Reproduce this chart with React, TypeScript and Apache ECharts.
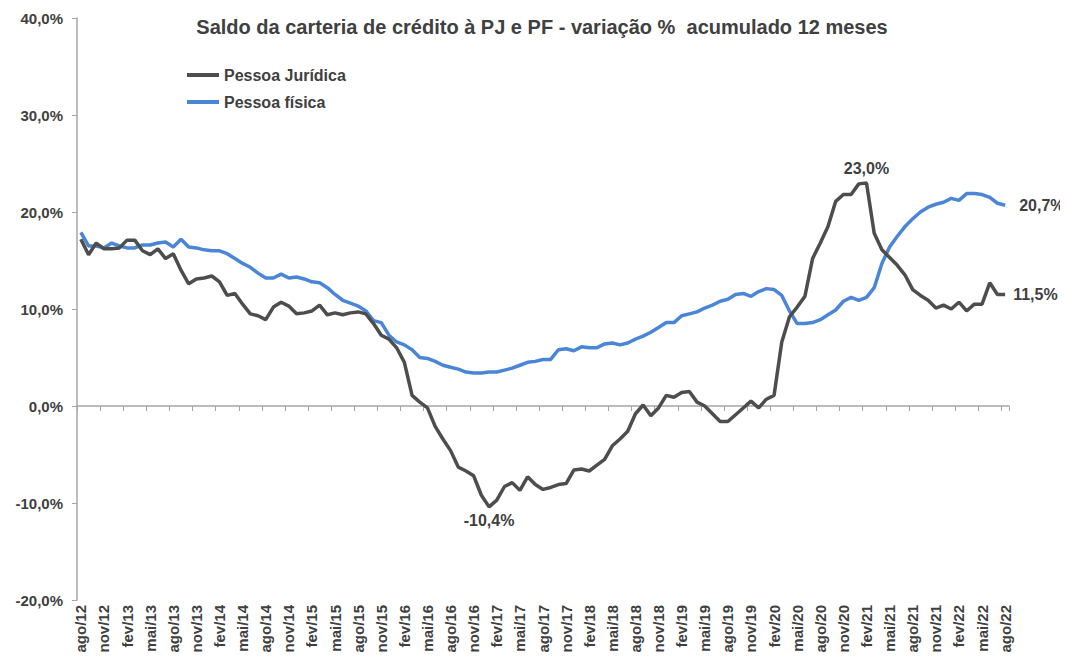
import React, { useEffect, useRef } from "react";
import * as echarts from "echarts";

const MONTHS = ["jan", "fev", "mar", "abr", "mai", "jun", "jul", "ago", "set", "out", "nov", "dez"];
// ago/12 .. ago/22
const categories: string[] = [];
for (let y = 2012; y <= 2022; y++) {
  for (let m = 0; m < 12; m++) {
    if (y === 2012 && m < 7) continue;
    if (y === 2022 && m > 7) continue;
    categories.push(`${MONTHS[m]}/${String(y).slice(2)}`);
  }
}

const pessoaJuridica = [
  17.2, 15.6, 16.8, 16.2, 16.2, 16.3, 17.1, 17.1, 16.0, 15.6,
  16.2, 15.2, 15.7, 14.0, 12.6, 13.1, 13.2, 13.4, 12.8, 11.4,
  11.6, 10.5, 9.5, 9.3, 8.9, 10.2, 10.7, 10.3, 9.5, 9.6,
  9.8, 10.4, 9.4, 9.6, 9.4, 9.6, 9.7, 9.5, 8.5, 7.3,
  6.9, 6.0, 4.5, 1.1, 0.4, -0.2, -2.1, -3.4, -4.6, -6.3,
  -6.7, -7.2, -9.2, -10.4, -9.7, -8.3, -7.9, -8.7, -7.3, -8.1,
  -8.6, -8.4, -8.1, -8.0, -6.6, -6.5, -6.7, -6.1, -5.5, -4.1,
  -3.4, -2.6, -0.8, 0.1, -1.0, -0.2, 1.1, 0.9, 1.4, 1.5,
  0.4, 0.0, -0.8, -1.6, -1.6, -0.9, -0.2, 0.5, -0.2, 0.7,
  1.1, 6.6, 9.2, 10.2, 11.3, 15.2, 16.8, 18.5, 21.1, 21.8,
  21.8, 22.9, 23.0, 17.8, 16.1, 15.3, 14.5, 13.5, 12.0, 11.4,
  10.9, 10.1, 10.4, 10.0, 10.7, 9.8, 10.5, 10.5, 12.7, 11.5,
  11.5,
];

const pessoaFisica = [
  17.9, 16.5, 16.5, 16.3, 16.8, 16.5, 16.3, 16.3, 16.6, 16.6,
  16.8, 16.9, 16.4, 17.2, 16.4, 16.3, 16.1, 16.0, 16.0, 15.7,
  15.2, 14.7, 14.3, 13.7, 13.2, 13.2, 13.6, 13.2, 13.3, 13.1,
  12.8, 12.7, 12.2, 11.5, 10.9, 10.6, 10.3, 9.8, 8.8, 8.6,
  7.3, 6.6, 6.3, 5.8, 5.0, 4.9, 4.6, 4.2, 4.0, 3.8,
  3.5, 3.4, 3.4, 3.5, 3.5, 3.7, 3.9, 4.2, 4.5, 4.6,
  4.8, 4.8, 5.8, 5.9, 5.7, 6.1, 6.0, 6.0, 6.4, 6.5,
  6.3, 6.5, 6.9, 7.2, 7.6, 8.1, 8.6, 8.6, 9.3, 9.5,
  9.7, 10.1, 10.4, 10.8, 11.0, 11.5, 11.6, 11.3, 11.8, 12.1,
  12.0, 11.4, 9.8, 8.5, 8.5, 8.6, 8.9, 9.4, 9.9, 10.8,
  11.2, 10.9, 11.2, 12.2, 14.7, 16.4, 17.5, 18.5, 19.3, 20.0,
  20.5, 20.8, 21.0, 21.4, 21.2, 21.9, 21.9, 21.8, 21.5, 20.9,
  20.7,
];

const yTicks = [-20, -10, 0, 10, 20, 30, 40];

// annotations: [index, position, distance]
const pjNotes: [number, string, number][] = [
  [53, "bottom", 6],
  [102, "top", 6],
  [120, "right", 8],
];
const pfNotes: [number, string, number][] = [[120, "right", 14]];

const FONT = "'Liberation Sans', Arial, sans-serif";
const TEXT = "#404040";
const PJ_COLOR = "#4d4d4d";
const PF_COLOR = "#4a86d6";

const fmt = (v: number) => v.toFixed(1).replace(".", ",") + "%";

export default function App() {
  const ref = useRef<HTMLDivElement>(null);
  useEffect(() => {
    if (!ref.current) return;
    const chart = echarts.init(ref.current, undefined, { renderer: "svg" });
    const mk = (notes: [number, string, number][], data: number[]) => ({
      symbol: "circle",
      symbolSize: 0,
      label: {
        show: true,
        fontFamily: FONT,
        fontWeight: "bold",
        fontSize: 16,
        color: TEXT,
      },
      data: notes.map(([i, pos, dist]) => ({
        coord: [categories[i], data[i]],
        value: data[i],
        label: { position: pos, distance: dist, formatter: fmt(data[i]) },
      })),
    });
    chart.setOption({
      animation: false,
      backgroundColor: "#ffffff",
      title: {
        text: "Saldo da carteria de crédito à PJ e PF - variação %  acumulado 12 meses",
        left: 537,
        textAlign: "center",
        top: 12,
        textStyle: { fontFamily: FONT, fontWeight: "bold", fontSize: 20, color: TEXT },
      },
      legend: {
        orient: "vertical",
        left: 182,
        top: 62,
        itemGap: 11,
        itemWidth: 32,
        itemHeight: 4,
        icon: "rect",
        textStyle: { fontFamily: FONT, fontWeight: "bold", fontSize: 16, color: TEXT },
        data: ["Pessoa Jurídica", "Pessoa física"],
      },
      grid: { left: 77, right: 59, top: 18, bottom: 64, containLabel: false },
      xAxis: [
        {
          type: "category",
          data: categories,
          boundaryGap: true,
          position: "bottom",
          axisLine: { show: false, onZero: false },
          axisTick: { show: false },
          axisLabel: {
            interval: 2,
            rotate: 90,
            margin: 5,
            fontFamily: FONT,
            fontWeight: "bold",
            fontSize: 15,
            color: TEXT,
          },
        },
        {
          type: "category",
          data: categories,
          boundaryGap: true,
          position: "top",
          axisLine: { show: true, onZero: true, lineStyle: { color: "#a6a6a6", width: 1.5 } },
          axisTick: { show: true, interval: 2, inside: true, length: 5, lineStyle: { color: "#a6a6a6" } },
          axisLabel: { show: false },
        },
      ],
      yAxis: {
        type: "value",
        min: yTicks[0],
        max: yTicks[yTicks.length - 1],
        interval: 10,
        splitLine: { show: false },
        axisLine: { show: true, lineStyle: { color: "#a6a6a6", width: 1.5 } },
        axisTick: { show: true, length: 5, lineStyle: { color: "#a6a6a6" } },
        axisLabel: {
          formatter: fmt,
          margin: 14,
          fontFamily: FONT,
          fontWeight: "bold",
          fontSize: 15,
          color: TEXT,
        },
      },
      series: [
        {
          name: "Pessoa Jurídica",
          type: "line",
          xAxisIndex: 0,
          data: pessoaJuridica,
          symbol: "none",
          lineStyle: { color: PJ_COLOR, width: 3.5 },
          itemStyle: { color: PJ_COLOR },
          markPoint: mk(pjNotes, pessoaJuridica),
          z: 3,
        },
        {
          name: "Pessoa física",
          type: "line",
          xAxisIndex: 0,
          data: pessoaFisica,
          symbol: "none",
          lineStyle: { color: PF_COLOR, width: 3.5 },
          itemStyle: { color: PF_COLOR },
          markPoint: mk(pfNotes, pessoaFisica),
          z: 2,
        },
      ],
    });
    return () => chart.dispose();
  }, []);
  return <div ref={ref} style={{ width: 1068, height: 664, margin: -8 }} />;
}
